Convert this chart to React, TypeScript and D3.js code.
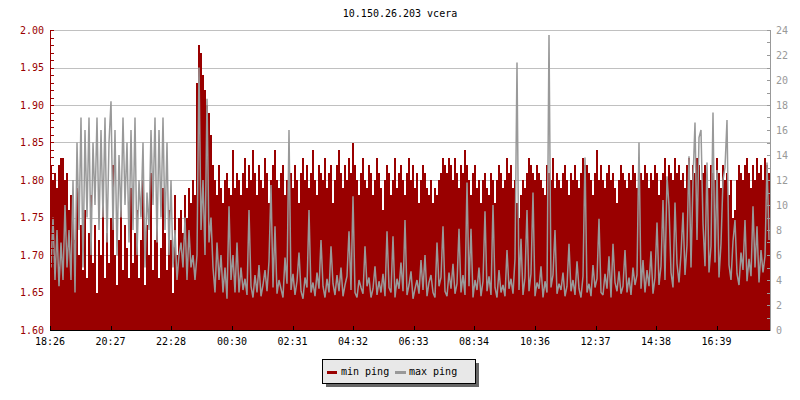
import React from "react";
import * as d3 from "d3";

// ---- data ----
const title = "10.150.26.203 vcera";
const sampleMinutes = 4; // one sample every 4 minutes over 24 h, starting 18:26
const totalMinutes = 1440;

// min ping (ms, left axis)
const minPing = [
  1.82,1.80,1.81,1.79,1.82,1.83,1.83,1.80,1.81,1.76,
  1.78,1.76,1.72,1.79,1.70,1.74,1.68,1.76,1.67,1.73,
  1.78,1.69,1.74,1.65,1.72,1.70,1.80,1.67,1.73,1.69,
  1.75,1.82,1.70,1.66,1.72,1.78,1.68,1.74,1.71,1.67,
  1.79,1.69,1.73,1.76,1.67,1.72,1.80,1.66,1.74,1.70,
  1.81,1.68,1.72,1.77,1.67,1.71,1.79,1.73,1.68,1.76,
  1.72,1.65,1.78,1.70,1.75,1.76,1.73,1.78,1.75,1.79,
  1.77,1.80,1.78,1.93,1.98,1.97,1.94,1.92,1.90,1.89,
  1.86,1.82,1.80,1.78,1.82,1.79,1.77,1.80,1.81,1.79,
  1.78,1.84,1.79,1.81,1.80,1.78,1.81,1.83,1.79,1.82,
  1.80,1.84,1.81,1.78,1.82,1.80,1.79,1.83,1.81,1.77,
  1.80,1.82,1.84,1.80,1.79,1.81,1.82,1.78,1.80,1.83,
  1.81,1.79,1.82,1.80,1.77,1.81,1.83,1.80,1.82,1.79,
  1.81,1.84,1.80,1.78,1.82,1.81,1.80,1.83,1.79,1.81,
  1.82,1.77,1.80,1.82,1.84,1.81,1.79,1.82,1.80,1.83,
  1.81,1.85,1.82,1.80,1.78,1.81,1.83,1.80,1.79,1.82,
  1.81,1.78,1.80,1.83,1.81,1.79,1.76,1.80,1.82,1.81,
  1.78,1.80,1.83,1.79,1.81,1.82,1.80,1.78,1.81,1.83,
  1.80,1.82,1.79,1.81,1.77,1.80,1.82,1.81,1.79,1.78,
  1.80,1.77,1.79,1.78,1.80,1.81,1.83,1.82,1.81,1.83,
  1.82,1.80,1.83,1.81,1.79,1.82,1.81,1.84,1.82,1.80,
  1.78,1.81,1.82,1.79,1.80,1.77,1.80,1.81,1.79,1.78,
  1.81,1.80,1.77,1.80,1.82,1.81,1.79,1.80,1.83,1.81,
  1.82,1.79,1.80,1.77,1.75,1.78,1.80,1.79,1.81,1.83,
  1.82,1.81,1.80,1.82,1.81,1.80,1.79,1.78,1.82,1.81,
  1.80,1.83,1.79,1.81,1.80,1.79,1.81,1.82,1.80,1.78,
  1.81,1.80,1.82,1.80,1.79,1.81,1.83,1.82,1.82,1.81,
  1.80,1.78,1.81,1.84,1.80,1.82,1.80,1.79,1.81,1.82,
  1.80,1.81,1.79,1.77,1.80,1.82,1.81,1.80,1.79,1.81,
  1.80,1.82,1.81,1.79,1.80,1.81,1.80,1.82,1.81,1.79,
  1.81,1.80,1.82,1.81,1.78,1.80,1.81,1.83,1.80,1.82,
  1.81,1.80,1.83,1.81,1.82,1.80,1.81,1.79,1.82,1.83,
  1.80,1.82,1.81,1.83,1.82,1.80,1.81,1.82,1.80,1.79,
  1.82,1.81,1.80,1.83,1.81,1.79,1.82,1.80,1.81,1.78,
  1.80,1.75,1.76,1.80,1.82,1.81,1.80,1.82,1.83,1.81,
  1.79,1.82,1.80,1.83,1.81,1.82,1.80,1.83,1.82,1.81,
];

// max ping (ms, right axis)
const maxPing = [
  5,9,4,8,3.5,7,4,10,5,8,
  4,12,3,15,8,17,5,16,9,17,
  6,15,10,17,8,16,9,17,7,15,
  18.3,8,16,6,14,9,17,10,15,7,
  16,8,17,6,12,9,15,5,11,8,
  16,10,17,7,16,9,17,8,15,6,
  12,5,8,4,6,7,5,9,4,8,
  5,6,4,6,21,8,12,6,18.5,7,
  9,5,3,7,4,6,3,5,2.5,9.9,
  4,6,3,7,3,5,3.2,4.1,2.8,9.6,
  3.5,2.6,4.4,3.0,5.2,2.7,3.6,4.8,3.1,5.5,
  11.6,3.4,8.3,2.9,4.0,3.3,2.6,5.8,3.7,16,
  3.2,4.5,2.8,3.9,6.2,3.1,2.5,4.2,3.4,9.6,
  3.0,3.8,2.7,4.6,3.3,7.2,3.5,2.6,4.1,3.0,
  6.7,3.7,2.8,4.4,3.1,5.0,2.7,3.6,4.3,7.9,
  3.2,10.7,3.0,2.6,4.0,3.4,2.9,6.7,3.5,4.2,
  2.6,3.3,5.1,2.8,3.9,3.0,4.5,2.7,7.9,3.4,
  3.0,7.5,2.6,4.1,3.3,5.4,3.1,8.8,2.8,3.6,
  4.7,2.5,3.3,4.0,2.9,5.6,3.2,6.0,2.7,3.8,
  4.4,3.0,2.6,7.0,3.5,4.2,8.3,3.1,2.7,4.6,
  3.3,5.3,2.9,3.7,8.1,3.0,4.4,2.8,11.8,3.5,
  8.1,2.6,4.0,3.2,5.0,2.7,3.9,9.5,3.1,4.3,
  2.8,10.0,3.4,2.6,4.8,3.0,3.6,2.7,6.4,3.3,
  4.1,2.9,5.7,21.4,3.2,7.3,2.8,4.2,9.6,3.1,
  4.5,11.0,2.7,3.8,3.3,5.1,2.6,3.9,3.0,23.6,
  3.4,4.4,8.0,2.9,3.7,3.2,4.6,2.7,3.5,6.9,
  3.1,4.0,2.8,5.5,3.3,2.6,4.3,13.8,3.0,3.7,
  2.7,5.2,3.4,4.1,8.9,3.0,2.8,4.5,3.3,5.9,
  2.6,6.9,3.8,3.1,4.7,2.9,3.5,6.4,3.0,4.2,
  2.8,5.0,3.6,4.4,15,3.3,5.6,3.0,4.8,3.5,
  6.3,2.9,4.2,8.6,3.6,5.1,10.4,4.0,12.3,9.9,
  4.6,3.4,10.2,5.3,3.8,6.1,9.4,4.4,6.8,13.9,
  5.0,12.0,16.6,7.2,15.4,16.0,8.5,5.1,13.4,4.6,
  6.7,17.4,5.4,12.8,4.2,6.9,12.0,13.0,16.8,5.2,
  4.0,7.1,8.8,4.5,3.6,6.2,4.8,8.8,3.9,5.7,
  4.3,9.9,5.0,8.3,3.8,6.4,4.6,5.9,13.4,7.2,
];

const tickMinutes = [0, 121, 242, 364, 485, 606, 727, 848, 970, 1091, 1212, 1333];
const tickLabels = ["18:26", "20:27", "22:28", "00:30", "02:31", "04:32", "06:33", "08:34", "10:36", "12:37", "14:38", "16:39"];

const seriesNames = ["min ping", "max ping"];
const seriesColors = ["#990000", "#999999"];

const leftDomain = [1.6, 2.0];
const rightDomain = [0, 24];

const FONT = "'DejaVu Sans Mono', monospace";

export default function App() {
  const plotL = 50, plotR = 770, plotT = 30, plotB = 330;
  const x = d3.scaleLinear().domain([0, totalMinutes]).range([plotL, plotR]);
  const yL = d3.scaleLinear().domain(leftDomain).range([plotB, plotT]);
  const yR = d3.scaleLinear().domain(rightDomain).range([plotB, plotT]);

  const minPts: [number, number][] = minPing.map((v, i) => [i * sampleMinutes, v]);
  minPts.push([totalMinutes, minPing[minPing.length - 1]]);
  const area = d3
    .area<[number, number]>()
    .x((d) => x(d[0]))
    .y0(plotB)
    .y1((d) => yL(d[1]))
    .curve(d3.curveStepAfter);

  const maxPts: [number, number][] = maxPing.map((v, i) => [i * sampleMinutes + sampleMinutes / 2, v]);
  const line = d3
    .line<[number, number]>()
    .x((d) => x(d[0]))
    .y((d) => yR(d[1]));

  const leftMajor = yL.ticks(8);
  const leftMinor = yL.ticks(40);
  const rightMajor = yR.ticks(12);
  const rightMinor = yR.ticks(24);
  const fmt = d3.format(".2f");

  return (
    <svg
      width={800}
      height={400}
      style={{ position: "absolute", left: 0, top: 0, background: "#fff" }}
      fontFamily={FONT}
    >
      <rect x={0} y={0} width={800} height={400} fill="#fff" />
      <text x={400} y={17} textAnchor="middle" fontSize={10} fill="#000">
        {title}
      </text>

      {/* grid */}
      {leftMajor.map((t) => (
        <line key={"g" + t} x1={plotL} x2={plotR} y1={Math.round(yL(t)) + 0.5} y2={Math.round(yL(t)) + 0.5} stroke="#c0c0c0" strokeWidth={1} />
      ))}

      {/* data */}
      <path d={area(minPts) || ""} fill={seriesColors[0]} shapeRendering="crispEdges" />
      <path d={line(maxPts) || ""} fill="none" stroke={seriesColors[1]} strokeWidth={1.5} strokeLinejoin="miter" strokeMiterlimit={2} />

      {/* left axis */}
      <line x1={plotL + 0.5} x2={plotL + 0.5} y1={plotT} y2={plotB} stroke="#990000" />
      {leftMinor.map((t) => (
        <line key={"lm" + t} x1={plotL} x2={plotL + 4} y1={Math.round(yL(t)) + 0.5} y2={Math.round(yL(t)) + 0.5} stroke="#990000" />
      ))}
      {leftMajor.map((t) => (
        <text key={"ll" + t} x={44} y={yL(t)} dy="0.35em" textAnchor="end" fontSize={10} fill="#990000">
          {fmt(t)}
        </text>
      ))}

      {/* right axis */}
      <line x1={plotR + 0.5} x2={plotR + 0.5} y1={plotT} y2={plotB + 1} stroke="#999999" />
      {rightMinor.map((t) => (
        <line key={"rm" + t} x1={plotR - 3} x2={plotR} y1={Math.round(yR(t)) + 0.5} y2={Math.round(yR(t)) + 0.5} stroke="#999999" />
      ))}
      {rightMajor.map((t) => (
        <text key={"rl" + t} x={776} y={yR(t)} dy="0.35em" textAnchor="start" fontSize={10} fill="#999999">
          {t}
        </text>
      ))}

      {/* bottom axis */}
      <line x1={plotL} x2={plotR} y1={plotB + 0.5} y2={plotB + 0.5} stroke="#000" />
      {tickMinutes.map((m, i) => (
        <g key={"xt" + m}>
          <line x1={Math.round(x(m)) + 0.5} x2={Math.round(x(m)) + 0.5} y1={plotB - 4} y2={plotB} stroke="#000" />
          <text x={x(m)} y={345} textAnchor="middle" fontSize={10} fill="#000">
            {tickLabels[i]}
          </text>
        </g>
      ))}

      {/* legend */}
      <rect x={326} y={363} width={153} height={24} fill="#666" />
      <rect x={322.5} y={359.5} width={153} height={24} fill="#e8e8e8" stroke="#000" />
      <rect x={327} y={371} width={10} height={3} fill={seriesColors[0]} />
      <text x={341} y={375} fontSize={10} fill="#000">{seriesNames[0]}</text>
      <rect x={395} y={371} width={11} height={3} fill={seriesColors[1]} />
      <text x={409} y={375} fontSize={10} fill="#000">{seriesNames[1]}</text>
    </svg>
  );
}
